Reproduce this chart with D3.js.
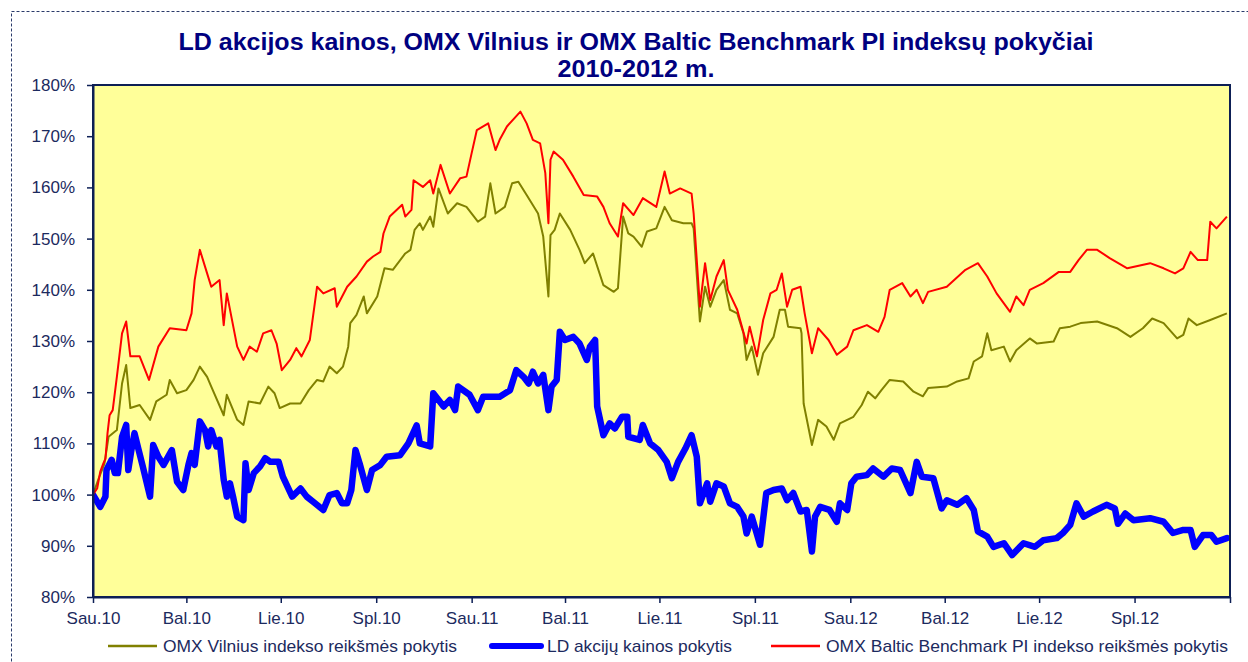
<!DOCTYPE html>
<html>
<head>
<meta charset="utf-8">
<script src="https://cdn.jsdelivr.net/npm/d3@7"></script>
<style>
  body { margin: 0; background: #fff; }
  svg { display: block; font-family: "Liberation Sans", Arial, sans-serif; }
</style>
</head>
<body>
<script>
// Series values (percent of start level)
const omxVilnius = [
  ["2010-01-01",100],["2010-01-06",102.9],["2010-01-12",106],["2010-01-16",111.3],["2010-01-24",112.6],["2010-01-29",121.7],["2010-02-02",125.3],["2010-02-06",116.9],["2010-02-15",117.5],["2010-02-25",114.6],["2010-03-03",118.2],["2010-03-13",119.5],["2010-03-16",122.4],["2010-03-23",119.8],["2010-04-01",120.4],["2010-04-08",122.4],["2010-04-14",125],["2010-04-21",123],["2010-04-25",121.1],["2010-05-07",115.5],["2010-05-10",119.5],["2010-05-20",114.6],["2010-05-26",113.6],["2010-05-31",118.2],["2010-06-11",117.8],["2010-06-19",121.1],["2010-06-25",119.8],["2010-06-30",116.9],["2010-07-10",117.8],["2010-07-20",117.8],["2010-07-28",120.4],["2010-08-05",122.4],["2010-08-11",122.1],["2010-08-17",125],["2010-08-24",123.7],["2010-08-30",125],["2010-09-04",128.9],["2010-09-06",133.5],["2010-09-12",135.1],["2010-09-19",138.7],["2010-09-22",135.4],["2010-10-02",138.7],["2010-10-09",144.2],["2010-10-17",143.9],["2010-10-29",147.1],["2010-11-03",147.8],["2010-11-07",151.7],["2010-11-12",153],["2010-11-15",151.7],["2010-11-22",154.3],["2010-11-25",152.3],["2010-11-30",159.8],["2010-12-09",154.9],["2010-12-18",156.9],["2010-12-27",156.2],
  ["2011-01-07",153.3],["2011-01-14",154.3],["2011-01-19",160.8],["2011-01-24",154.9],["2011-02-02",156.2],["2011-02-09",160.8],["2011-02-15",161.1],["2011-02-23",158.5],["2011-03-06",154.9],["2011-03-11",150.4],["2011-03-16",138.7],["2011-03-18",150.7],["2011-03-22",151.7],["2011-03-27",154.9],["2011-04-06",151.7],["2011-04-15",147.8],["2011-04-20",145.2],["2011-04-28",147.1],["2011-05-08",140.9],["2011-05-18",139.6],["2011-05-22",140.3],["2011-05-27",154.3],["2011-06-01",151],["2011-06-06",150.4],["2011-06-14",148.4],["2011-06-19",151.4],["2011-06-28",152],["2011-07-06",156.2],["2011-07-13",153.6],["2011-07-24",153],["2011-08-01",153],["2011-08-03",152],["2011-08-09",133.8],["2011-08-14",140.6],["2011-08-19",136.7],["2011-08-25",140],["2011-09-01",141.9],["2011-09-07",136.1],["2011-09-14",135.4],["2011-09-20",131.5],["2011-09-23",126.3],["2011-09-28",128.9],["2011-10-04",123.4],["2011-10-09",127.6],["2011-10-19",130.8],["2011-10-25",136.1],["2011-10-30",136.1],["2011-11-02",132.8],["2011-11-14",132.5],["2011-11-15",131.5],["2011-11-17",117.8],["2011-11-25",109.7],["2011-12-01",114.6],["2011-12-09",113.3],["2011-12-16",110.7],["2011-12-22",113.9],
  ["2012-01-04",115.2],["2012-01-12",117.5],["2012-01-18",120.1],["2012-01-25",118.8],["2012-01-31",120.4],["2012-02-08",122.4],["2012-02-21",122.1],["2012-03-02",120.1],["2012-03-11",119.2],["2012-03-16",120.8],["2012-04-03",121.1],["2012-04-13",122.1],["2012-04-24",122.7],["2012-04-29",126],["2012-05-07",127],["2012-05-12",131.5],["2012-05-16",128.2],["2012-05-28",128.9],["2012-06-03",126],["2012-06-09",128.2],["2012-06-22",130.5],["2012-06-29",129.5],["2012-07-15",129.9],["2012-07-21",132.5],["2012-07-31",132.8],["2012-08-10",133.5],["2012-08-26",133.8],["2012-09-14",132.5],["2012-09-27",130.8],["2012-10-09",132.5],["2012-10-18",134.4],["2012-10-29",133.5],["2012-11-11",130.5],["2012-11-17",131.2],["2012-11-22",134.4],["2012-11-30",133.1],["2012-12-13",134.1],["2012-12-29",135.4]
];

const ldShares = [
  ["2010-01-01",100],["2010-01-08",97.6],["2010-01-13",99.6],["2010-01-14",104.8],["2010-01-19",106.8],["2010-01-22",104.2],["2010-01-25",104.2],["2010-01-29",111.3],["2010-02-02",113.6],["2010-02-04",104.8],["2010-02-07",108.7],["2010-02-10",112],["2010-02-14",108.7],["2010-02-18",105.5],["2010-02-25",99.6],["2010-02-28",109.7],["2010-03-05",107.4],["2010-03-10",105.8],["2010-03-18",108.7],["2010-03-23",102.5],["2010-03-29",100.9],["2010-04-03",105.8],["2010-04-06",108.1],["2010-04-09",105.8],["2010-04-14",114.3],["2010-04-19",112.6],["2010-04-22",109.4],["2010-04-25",112.6],["2010-04-30",109.4],["2010-05-03",110.7],["2010-05-07",102.9],["2010-05-10",99.6],["2010-05-13",102.2],["2010-05-16",99.6],["2010-05-20",95.7],["2010-05-26",95],["2010-05-28",106.1],["2010-05-31",100.9],["2010-06-05",104.2],["2010-06-11",105.5],["2010-06-16",107.1],["2010-06-21",106.4],["2010-06-29",106.4],["2010-07-03",103.5],["2010-07-12",99.6],["2010-07-20",101.2],["2010-07-26",99.6],["2010-08-03",98.3],["2010-08-11",97],["2010-08-17",99.9],["2010-08-24",100.3],["2010-08-29",98.3],["2010-09-03",98.3],["2010-09-07",100.9],["2010-09-11",108.7],["2010-09-15",106.1],["2010-09-22",100.9],["2010-09-27",104.8],["2010-10-05",105.8],["2010-10-11",107.4],["2010-10-24",107.7],["2010-11-01",110],["2010-11-09",113.5],["2010-11-12",110],["2010-11-22",109.4],["2010-11-25",119.8],["2010-12-05",117.2],["2010-12-11",118.5],["2010-12-16",116.5],["2010-12-19",121.1],["2010-12-30",119.5],
  ["2011-01-07",116.5],["2011-01-12",119.1],["2011-01-28",119.1],["2011-02-07",120.4],["2011-02-13",124.3],["2011-02-20",123],["2011-02-25",121.7],["2011-03-01",124],["2011-03-06",121.7],["2011-03-11",123.4],["2011-03-16",116.5],["2011-03-19",121.1],["2011-03-24",122.4],["2011-03-27",131.8],["2011-04-01",130.2],["2011-04-09",130.8],["2011-04-15",129.5],["2011-04-22",126.3],["2011-04-25",128.9],["2011-04-30",130.2],["2011-05-02",117.2],["2011-05-08",111.6],["2011-05-14",113.9],["2011-05-19",112.9],["2011-05-26",115.2],["2011-05-31",115.2],["2011-06-01",111.3],["2011-06-12",110.7],["2011-06-15",113.6],["2011-06-22",110],["2011-06-30",108.7],["2011-07-08",106.4],["2011-07-13",103.2],["2011-07-19",106.4],["2011-07-26",109],["2011-08-01",111.6],["2011-08-06",107.4],["2011-08-09",98.3],["2011-08-16",102.2],["2011-08-19",98.6],["2011-08-25",102.2],["2011-09-01",101.6],["2011-09-07",98.3],["2011-09-14",97.6],["2011-09-20",95.7],["2011-09-23",92.4],["2011-09-28",95.7],["2011-10-06",90.2],["2011-10-12",100.3],["2011-10-19",100.9],["2011-10-27",101.2],["2011-11-01",98.9],["2011-11-07",100.3],["2011-11-14",96.7],["2011-11-20",97],["2011-11-25",88.9],["2011-11-28",95.7],["2011-12-03",97.6],["2011-12-12",97],["2011-12-19",94.7],["2011-12-22",98.3],["2011-12-29",97],
  ["2012-01-02",102.2],["2012-01-07",103.5],["2012-01-17",103.8],["2012-01-23",105.1],["2012-02-02",103.5],["2012-02-10",105.1],["2012-02-18",104.8],["2012-02-28",100.3],["2012-03-05",106.4],["2012-03-10",103.5],["2012-03-21",103.2],["2012-03-29",97.3],["2012-04-03",98.9],["2012-04-13",98],["2012-04-22",99.3],["2012-04-29",97],["2012-05-03",92.8],["2012-05-12",91.8],["2012-05-18",89.8],["2012-05-28",90.5],["2012-06-05",88.2],["2012-06-16",90.5],["2012-06-27",89.8],["2012-07-05",91.1],["2012-07-18",91.5],["2012-07-24",92.5],["2012-07-31",94.1],["2012-08-06",98.3],["2012-08-13",95.7],["2012-08-22",96.7],["2012-09-04",98],["2012-09-12",97.3],["2012-09-15",94.3],["2012-09-22",96.3],["2012-09-30",95],["2012-10-16",95.4],["2012-10-29",94.7],["2012-11-07",92.5],["2012-11-17",93.1],["2012-11-24",93.1],["2012-11-28",89.8],["2012-12-06",92.1],["2012-12-14",92.1],["2012-12-19",90.8],["2012-12-29",91.5]
];

const omxBaltic = [
  ["2010-01-01",100],["2010-01-05",101.2],["2010-01-08",104.5],["2010-01-11",106.1],["2010-01-13",107],["2010-01-15",112],["2010-01-17",115.5],["2010-01-20",116.5],["2010-01-24",123],["2010-01-29",131.5],["2010-02-02",133.8],["2010-02-06",127],["2010-02-15",127],["2010-02-24",122.4],["2010-03-05",128.9],["2010-03-16",132.5],["2010-04-01",132.1],["2010-04-06",135.4],["2010-04-09",141.9],["2010-04-14",147.8],["2010-04-21",143.2],["2010-04-25",140.6],["2010-05-03",141.9],["2010-05-07",133.1],["2010-05-10",139.3],["2010-05-20",128.9],["2010-05-26",126.3],["2010-06-01",128.9],["2010-06-08",127.9],["2010-06-14",131.5],["2010-06-22",132.1],["2010-06-27",129.5],["2010-07-02",124.3],["2010-07-10",126.3],["2010-07-16",128.6],["2010-07-21",127],["2010-07-29",130.2],["2010-08-05",140.6],["2010-08-11",139.3],["2010-08-22",140.3],["2010-08-24",136.7],["2010-09-03",140.6],["2010-09-12",142.6],["2010-09-22",145.5],["2010-09-28",146.5],["2010-10-05",147.4],["2010-10-08",151],["2010-10-14",154.3],["2010-10-26",156.6],["2010-10-29",154.3],["2010-11-04",155.6],["2010-11-06",161.4],["2010-11-15",160.1],["2010-11-22",161.4],["2010-11-25",158.8],["2010-12-02",164.4],["2010-12-11",158.8],["2010-12-21",161.8],["2010-12-27",162.1],
  ["2011-01-01",166.7],["2011-01-06",171.2],["2011-01-17",172.5],["2011-01-24",167.3],["2011-01-28",169.3],["2011-02-04",171.9],["2011-02-17",174.8],["2011-02-23",172.5],["2011-03-01",169.3],["2011-03-08",168.6],["2011-03-13",162.8],["2011-03-16",153],["2011-03-18",165.4],["2011-03-21",167],["2011-03-30",165.4],["2011-04-09",162.1],["2011-04-19",158.5],["2011-05-02",158.2],["2011-05-08",156.2],["2011-05-14",153],["2011-05-22",150.4],["2011-05-27",156.9],["2011-06-06",154.6],["2011-06-15",157.9],["2011-06-28",156.2],["2011-07-06",163.1],["2011-07-11",158.8],["2011-07-21",159.8],["2011-08-01",158.8],["2011-08-03",154.9],["2011-08-09",136.7],["2011-08-14",145.2],["2011-08-19",138],["2011-08-25",142.6],["2011-09-01",145.8],["2011-09-05",140],["2011-09-14",136.1],["2011-09-23",129.5],["2011-09-26",132.8],["2011-10-03",127],["2011-10-09",134.1],["2011-10-16",139.3],["2011-10-22",140],["2011-10-27",143.2],["2011-11-01",136.7],["2011-11-06",140],["2011-11-14",140.6],["2011-11-18",135.4],["2011-11-25",127.6],["2011-12-01",132.5],["2011-12-11",130.2],["2011-12-19",127.3],["2011-12-29",128.9],
  ["2012-01-04",132.1],["2012-01-17",133.1],["2012-01-28",131.8],["2012-02-03",134.7],["2012-02-08",140],["2012-02-20",141.3],["2012-02-28",138.7],["2012-03-05",140],["2012-03-11",137.4],["2012-03-16",139.6],["2012-04-03",140.6],["2012-04-21",143.9],["2012-05-03",145.2],["2012-05-12",142.6],["2012-05-21",139.3],["2012-06-03",135.7],["2012-06-09",138.7],["2012-06-16",137],["2012-06-22",140],["2012-07-05",141.3],["2012-07-20",143.5],["2012-07-31",143.5],["2012-08-08",145.8],["2012-08-16",147.8],["2012-08-26",147.8],["2012-09-07",146.2],["2012-09-24",144.2],["2012-10-16",145.2],["2012-10-29",144.2],["2012-11-09",143.2],["2012-11-17",144.2],["2012-11-24",147.4],["2012-12-01",145.8],["2012-12-10",145.8],["2012-12-13",153.3],["2012-12-19",152],["2012-12-29",154.3]
];

// Axis ticks
const xTickDates = ["2010-01-01","2010-04-01","2010-07-01","2010-10-01","2011-01-01","2011-04-01","2011-07-01","2011-10-01","2012-01-01","2012-04-01","2012-07-01","2012-10-01","2013-01-01"];
const xTickLabels = ["Sau.10","Bal.10","Lie.10","Spl.10","Sau.11","Bal.11","Lie.11","Spl.11","Sau.12","Bal.12","Lie.12","Spl.12",""];
const yTicks = [80, 90, 100, 110, 120, 130, 140, 150, 160, 170, 180];

const seriesNames = ["OMX Vilnius indekso reikšmės pokytis", "LD akcijų kainos pokytis", "OMX Baltic Benchmark PI indekso reikšmės pokytis"];

const W = 1248, H = 662;
const margin = { top: 85, right: 18, bottom: 65, left: 93 };
const width = W - margin.left - margin.right;
const height = H - margin.top - margin.bottom;
const navy = "#0d1f55";
const textCol = "#1c2a5e";

const parse = d3.timeParse("%Y-%m-%d");

const svg = d3.select("body").append("svg")
  .attr("width", W)
  .attr("height", H);

// dashed outer frame
svg.append("rect")
  .attr("x", 11.5).attr("y", 11.5)
  .attr("width", W + 20).attr("height", H + 20)
  .attr("fill", "none")
  .attr("stroke", "#2a3a6a")
  .attr("stroke-width", 1)
  .attr("stroke-dasharray", "3,2");

// title
let title = svg.append("text")
  .attr("text-anchor", "middle")
  .attr("fill", "#000080")
  .style("font-weight", "bold")
  .style("font-size", "23px");
title.append("tspan").attr("x", 636).attr("y", 50)
  .attr("textLength", 915).attr("lengthAdjust", "spacingAndGlyphs")
  .text("LD akcijos kainos, OMX Vilnius ir OMX Baltic Benchmark PI indeksų pokyčiai");
title.append("tspan").attr("x", 636).attr("y", 77)
  .attr("textLength", 157).attr("lengthAdjust", "spacingAndGlyphs")
  .text("2010-2012 m.");

let g = svg.append("g")
  .attr("transform", "translate(" + margin.left + "," + margin.top + ")");

let x = d3.scaleTime()
  .domain([parse("2010-01-01"), parse("2013-01-01")])
  .range([0, width]);

let y = d3.scaleLinear()
  .domain([80, 180])
  .range([height, 0]);

// plot background
g.append("rect")
  .attr("width", width).attr("height", height)
  .attr("fill", "#ffff99");

g.append("clipPath").attr("id", "clip")
  .append("rect").attr("width", width).attr("height", height);

let line = d3.line()
  .x(d => x(parse(d[0])))
  .y(d => y(d[1]));

let lines = g.append("g").attr("clip-path", "url(#clip)");
lines.append("path").datum(omxVilnius)
  .attr("d", line).attr("fill", "none")
  .attr("stroke", "#808000").attr("stroke-width", 2).attr("stroke-linejoin", "round");
lines.append("path").datum(ldShares)
  .attr("d", line).attr("fill", "none")
  .attr("stroke", "#0000ff").attr("stroke-width", 6.5).attr("stroke-linejoin", "round").attr("stroke-linecap", "round");
lines.append("path").datum(omxBaltic)
  .attr("d", line).attr("fill", "none")
  .attr("stroke", "#ff0000").attr("stroke-width", 2).attr("stroke-linejoin", "round");

// plot frame
g.append("rect")
  .attr("width", width).attr("height", height)
  .attr("fill", "none").attr("stroke", navy).attr("stroke-width", 2);

// x axis
let xAxis = g.append("g")
  .attr("transform", "translate(0," + height + ")")
  .call(d3.axisBottom(x)
    .tickValues(xTickDates.map(parse))
    .tickFormat((d, i) => xTickLabels[i])
    .tickSizeInner(6).tickSizeOuter(0).tickPadding(9));

// y axis
let yAxis = g.append("g")
  .call(d3.axisLeft(y)
    .tickValues(yTicks)
    .tickFormat(d => d + "%")
    .tickSizeInner(6).tickSizeOuter(0).tickPadding(12));

[xAxis, yAxis].forEach(a => {
  a.select(".domain").attr("stroke", navy).attr("stroke-width", 2);
  a.selectAll(".tick line").attr("stroke", navy).attr("stroke-width", 1.5);
  a.selectAll(".tick text")
    .attr("fill", textCol)
    .style("font-size", "17px")
    .style("font-family", "'Liberation Sans', Arial, sans-serif");
});

// legend
const legendX = [108, 492, 771];
const legendTextLen = [294, 185, 402];
const legendColors = ["#808000", "#0000ff", "#ff0000"];
const legendWidths = [2.5, 6, 2.5];
let legend = svg.append("g");
seriesNames.forEach((name, i) => {
  legend.append("line")
    .attr("x1", legendX[i]).attr("x2", legendX[i] + 49)
    .attr("y1", 646).attr("y2", 646)
    .attr("stroke", legendColors[i]).attr("stroke-width", legendWidths[i])
    .attr("stroke-linecap", i === 1 ? "round" : "butt");
  legend.append("text")
    .attr("x", legendX[i] + 55).attr("y", 652)
    .attr("fill", textCol)
    .style("font-size", "17px")
    .attr("textLength", legendTextLen[i]).attr("lengthAdjust", "spacingAndGlyphs")
    .text(name);
});
</script>
</body>
</html>
